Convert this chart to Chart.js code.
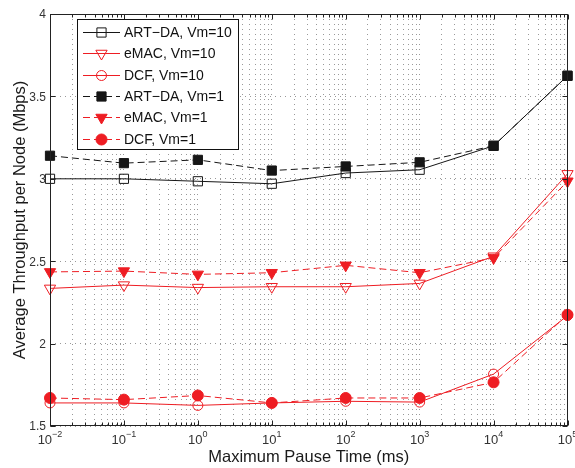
<!DOCTYPE html>
<html>
<head>
<meta charset="utf-8">
<script src="https://cdn.jsdelivr.net/npm/chart.js@4.4.1/dist/chart.umd.min.js"></script>
<style>
  body { margin: 0; background: #fff; }
  canvas { display: block; }
</style>
</head>
<body>
<canvas id="myChart" width="575" height="468"></canvas>
<script>
// pause times (ms) and throughput readings (Mbps)
const pauseTimes = [0.01, 0.1, 1, 10, 100, 1000, 10000, 100000];
const artda10 = [3.00, 3.00, 2.985, 2.97, 3.035, 3.055, 3.20, 3.625];
const emac10 = [2.335, 2.355, 2.34, 2.345, 2.345, 2.365, 2.53, 3.03];
const dcf10 = [1.64, 1.64, 1.625, 1.64, 1.65, 1.645, 1.815, 2.17];
const artda1 = [3.14, 3.095, 3.115, 3.05, 3.075, 3.10, 3.20, 3.625];
const emac1 = [2.435, 2.44, 2.42, 2.43, 2.475, 2.43, 2.52, 2.985];
const dcf1 = [1.67, 1.66, 1.685, 1.64, 1.67, 1.67, 1.765, 2.175];

const seriesLabels = ['ART\u2212DA, Vm=10', 'eMAC, Vm=10', 'DCF, Vm=10',
                      'ART\u2212DA, Vm=1', 'eMAC, Vm=1', 'DCF, Vm=1'];
const xExponents = [-2, -1, 0, 1, 2, 3, 4, 5];
const yTicks = [1.5, 2, 2.5, 3, 3.5, 4];
const xTitle = 'Maximum Pause Time (ms)';
const yTitle = 'Average Throughput per Node (Mbps)';

const BLACK = '#161616';
const RED = '#ee1d23';
const FONT = '"Liberation Sans", Arial, Helvetica, sans-serif';

// grid positions for log axis: 1..9 x each decade
const xGrid = [];
xExponents.forEach(e => {
  for (let m = 1; m <= 9; m++) {
    if (e === 5 && m > 1) break;
    xGrid.push(m * Math.pow(10, e));
  }
});

function toPoints(vals) {
  return vals.map((v, i) => ({ x: pauseTimes[i], y: v }));
}

function series(label, vals, color, dashed, style, radius, filled, rotation) {
  return {
    label: label,
    data: toPoints(vals),
    borderColor: color,
    borderWidth: 1,
    borderDash: dashed ? [7, 4] : [],
    pointStyle: style,
    pointRadius: radius,
    pointRotation: rotation || 0,
    pointBorderColor: color,
    pointBackgroundColor: filled ? color : 'rgba(0,0,0,0)',
    pointBorderWidth: 1,
    tension: 0,
    clip: false
  };
}

// axes box, inward ticks, tick labels, titles, legend
const decorations = {
  id: 'decorations',
  afterDraw(chart) {
    const { ctx, chartArea: a, scales: { x, y } } = chart;
    const L = Math.round(a.left) + 0.5, R = Math.round(a.right) - 0.5;
    const T = Math.round(a.top) + 0.5, B = Math.round(a.bottom) - 0.5;
    ctx.save();
    ctx.strokeStyle = '#222';
    ctx.lineWidth = 1;
    ctx.setLineDash([]);
    ctx.strokeRect(L, T, R - L, B - T);

    // x ticks (major and minor, top and bottom)
    ctx.beginPath();
    xGrid.forEach(v => {
      const px = Math.round(x.getPixelForValue(v)) + 0.5;
      const major = Math.abs(Math.log10(v) - Math.round(Math.log10(v))) < 1e-9;
      const len = major ? 5 : 3;
      ctx.moveTo(px, B); ctx.lineTo(px, B - len);
      ctx.moveTo(px, T); ctx.lineTo(px, T + len);
    });
    yTicks.forEach(v => {
      const py = Math.round(y.getPixelForValue(v)) + 0.5;
      ctx.moveTo(L, py); ctx.lineTo(L + 5, py);
      ctx.moveTo(R, py); ctx.lineTo(R - 5, py);
    });
    ctx.stroke();

    // y tick labels
    ctx.fillStyle = '#333';
    ctx.font = '12px ' + FONT;
    ctx.textAlign = 'right';
    ctx.textBaseline = 'middle';
    yTicks.forEach(v => {
      ctx.fillText(String(v), a.left - 4, y.getPixelForValue(v) + 1);
    });

    // x tick labels 10^n
    ctx.textBaseline = 'alphabetic';
    ctx.textAlign = 'left';
    xExponents.forEach(e => {
      const px = x.getPixelForValue(Math.pow(10, e));
      const exp = e < 0 ? '\u2212' + Math.abs(e) : String(e);
      ctx.font = '13px ' + FONT;
      const wb = ctx.measureText('10').width;
      ctx.font = '9px ' + FONT;
      const we = ctx.measureText(exp).width;
      const x0 = px - (wb + we) / 2;
      ctx.font = '13px ' + FONT;
      ctx.fillText('10', x0, 444);
      ctx.font = '9px ' + FONT;
      ctx.fillText(exp, x0 + wb, 437);
    });

    // axis titles
    ctx.fillStyle = '#1a1a1a';
    ctx.font = '16.5px ' + FONT;
    ctx.textAlign = 'center';
    ctx.fillText(xTitle, (a.left + a.right) / 2, 462);
    ctx.save();
    ctx.translate(25, (a.top + a.bottom) / 2);
    ctx.rotate(-Math.PI / 2);
    ctx.fillText(yTitle, 0, 0);
    ctx.restore();

    // legend
    const bx = 77.5, by = 19.5, bw = 161, bh = 130;
    ctx.fillStyle = '#fff';
    ctx.fillRect(bx, by, bw, bh);
    ctx.strokeStyle = '#111';
    ctx.strokeRect(bx, by, bw, bh);
    ctx.font = '14px ' + FONT;
    ctx.textAlign = 'left';
    ctx.textBaseline = 'middle';
    chart.data.datasets.forEach((ds, i) => {
      const cy = Math.round(32 + i * 21.3) + 0.5;
      ctx.strokeStyle = ds.borderColor;
      ctx.lineWidth = 1;
      ctx.setLineDash(ds.borderDash);
      ctx.beginPath();
      ctx.moveTo(83, cy); ctx.lineTo(120, cy);
      ctx.stroke();
      ctx.setLineDash([]);
      ctx.fillStyle = ds.pointBackgroundColor;
      ctx.strokeStyle = ds.pointBorderColor;
      Chart.helpers.drawPoint(ctx, {
        pointStyle: ds.pointStyle,
        rotation: ds.pointRotation,
        radius: ds.pointRadius,
        borderWidth: 1
      }, 101.5, cy);
      ctx.fillStyle = '#111';
      ctx.fillText(ds.label, 124, cy + 1);
    });
    ctx.restore();
  }
};

new Chart(document.getElementById('myChart'), {
  type: 'line',
  data: {
    datasets: [
      series(seriesLabels[0], artda10, BLACK, false, 'rect', 6.5, false),
      series(seriesLabels[1], emac10, RED, false, 'triangle', 6.5, false, 180),
      series(seriesLabels[2], dcf10, RED, false, 'circle', 5, false),
      series(seriesLabels[3], artda1, BLACK, true, 'rect', 6.5, true),
      series(seriesLabels[4], emac1, RED, true, 'triangle', 6.5, true, 180),
      series(seriesLabels[5], dcf1, RED, true, 'circle', 5.5, true)
    ]
  },
  options: {
    responsive: false,
    animation: false,
    devicePixelRatio: 1,
    layout: { padding: { left: 50, right: 3, top: 14, bottom: 42 } },
    plugins: {
      legend: { display: false },
      tooltip: { enabled: false }
    },
    scales: {
      x: {
        type: 'logarithmic',
        min: 0.01,
        max: 100000,
        afterBuildTicks: axis => { axis.ticks = xGrid.map(v => ({ value: v })); },
        ticks: { display: false, autoSkip: false },
        grid: { color: '#999999', lineWidth: 1, drawTicks: false },
        border: { display: false, dash: [1, 4] }
      },
      y: {
        type: 'linear',
        min: 1.5,
        max: 4,
        afterBuildTicks: axis => { axis.ticks = yTicks.map(v => ({ value: v })); },
        ticks: { display: false },
        grid: { color: '#999999', lineWidth: 1, drawTicks: false },
        border: { display: false, dash: [1, 4] }
      }
    }
  },
  plugins: [decorations]
});
</script>
</body>
</html>
